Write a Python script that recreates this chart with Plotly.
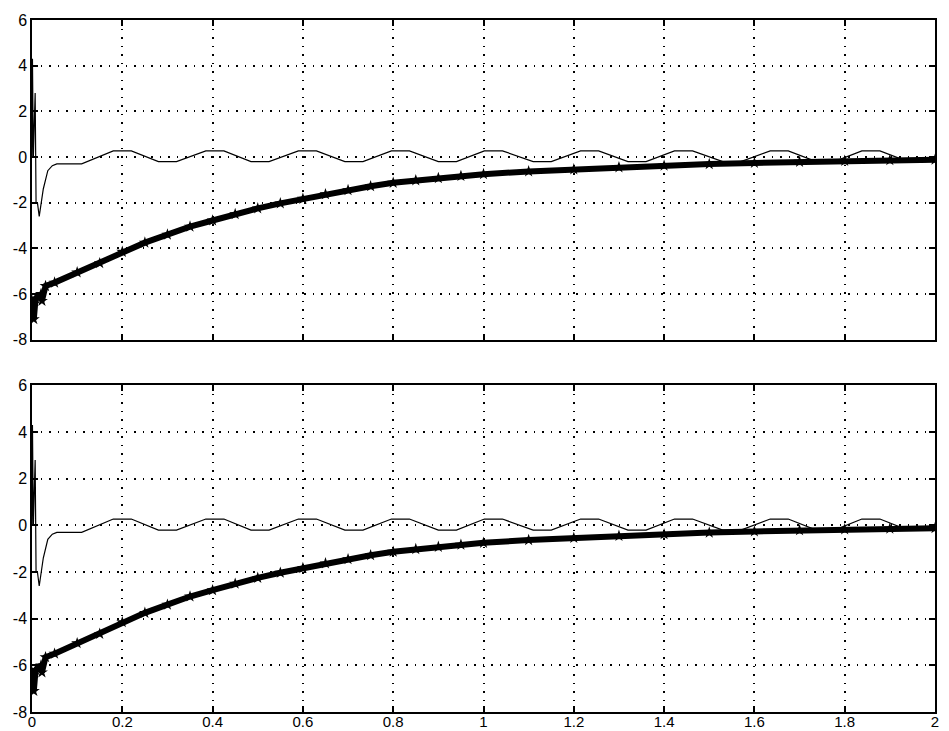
import plotly.graph_objects as go
from plotly.subplots import make_subplots

# ---- data ----
# thin oscillating signal: start transient
thin_t_head = [0.0, 0.001, 0.003, 0.007, 0.009, 0.012, 0.016, 0.020, 0.025, 0.035, 0.045, 0.055, 0.070, 0.110]
thin_v_head = [0.0, 4.3, 0.0, 2.8, -2.0, -2.0, -2.6, -2.0, -1.4, -0.6, -0.38, -0.3, -0.3, -0.3]
# centres of the flat peaks and troughs of the ripple
peak_t = [0.200, 0.405, 0.610, 0.816, 1.022, 1.235, 1.443, 1.655, 1.858]
trough_t = [0.300, 0.505, 0.713, 0.920, 1.130, 1.340, 1.550, 1.757, 1.960]
peak_v = 0.27
trough_v = -0.2
flat_half = 0.02
thin_end_t = [2.0]
thin_end_v = [-0.1]

# thick (starred) signal
thick_t = [0.0, 0.004, 0.008, 0.020, 0.022, 0.030, 0.05, 0.10, 0.15, 0.20, 0.25, 0.30, 0.35, 0.40,
           0.45, 0.50, 0.55, 0.60, 0.65, 0.70, 0.75, 0.80, 0.85, 0.90, 0.95, 1.00, 1.10,
           1.20, 1.30, 1.40, 1.50, 1.60, 1.70, 1.80, 1.90, 2.00]
thick_v = [-6.3, -7.1, -6.2, -6.0, -6.3, -5.65, -5.5, -5.05, -4.65, -4.15, -3.75, -3.4, -3.05, -2.78,
           -2.5, -2.25, -2.03, -1.83, -1.63, -1.45, -1.28, -1.13, -1.02, -0.92, -0.83, -0.75, -0.63,
           -0.54, -0.45, -0.38, -0.31, -0.26, -0.21, -0.17, -0.14, -0.12]

x_ticks = [0, 0.2, 0.4, 0.6, 0.8, 1, 1.2, 1.4, 1.6, 1.8, 2]
x_labels = ["0", "0.2", "0.4", "0.6", "0.8", "1", "1.2", "1.4", "1.6", "1.8", "2"]
y_ticks = [-8, -6, -4, -2, 0, 2, 4, 6]
y_labels = ["-8", "-6", "-4", "-2", "0", "2", "4", "6"]

# build ripple polyline from the read peak/trough centres
ripple = []
for c in peak_t:
    ripple.append((c - flat_half, peak_v))
    ripple.append((c + flat_half, peak_v))
for c in trough_t:
    ripple.append((c - flat_half, trough_v))
    ripple.append((c + flat_half, trough_v))
ripple.sort()
thin_t = thin_t_head + [p[0] for p in ripple] + thin_end_t
thin_v = thin_v_head + [p[1] for p in ripple] + thin_end_v

fig = make_subplots(rows=2, cols=1, shared_xaxes=False, vertical_spacing=0.066)

for r in (1, 2):
    fig.add_trace(go.Scatter(x=thin_t, y=thin_v, mode="lines",
                             line=dict(color="black", width=1.2), showlegend=False), row=r, col=1)
    fig.add_trace(go.Scatter(x=thick_t, y=thick_v, mode="lines+markers",
                             line=dict(color="black", width=6),
                             marker=dict(symbol="star", size=9, color="black"),
                             showlegend=False), row=r, col=1)

axis_common = dict(showline=True, linecolor="black", linewidth=1.5, mirror="ticks",
                   ticks="inside", ticklen=6, tickwidth=1.5, tickcolor="black",
                   showgrid=True, gridcolor="black", griddash="1.5px,7px", gridwidth=1.5,
                   zeroline=False, automargin=False,
                   tickfont=dict(family="Liberation Sans, Arial", size=16, color="black"))

fig.update_xaxes(range=[0, 2], tickvals=x_ticks, ticktext=x_labels, **axis_common)
fig.update_xaxes(showticklabels=False, row=1, col=1)
fig.update_xaxes(ticklabelstandoff=-5, tickfont=dict(size=15), row=2, col=1)
fig.update_yaxes(range=[-8, 6], tickvals=y_ticks, ticktext=y_labels, **axis_common)

# page body has an 8px default margin, so the figure is sized/offset to compensate
fig.update_layout(width=941, height=723, margin=dict(l=24, r=14, t=12, b=19),
                  paper_bgcolor="white", plot_bgcolor="white")
fig.update_layout(yaxis=dict(domain=[0.538, 1.0]), yaxis2=dict(domain=[0.0, 0.472]))

fig.write_html("out.html")
